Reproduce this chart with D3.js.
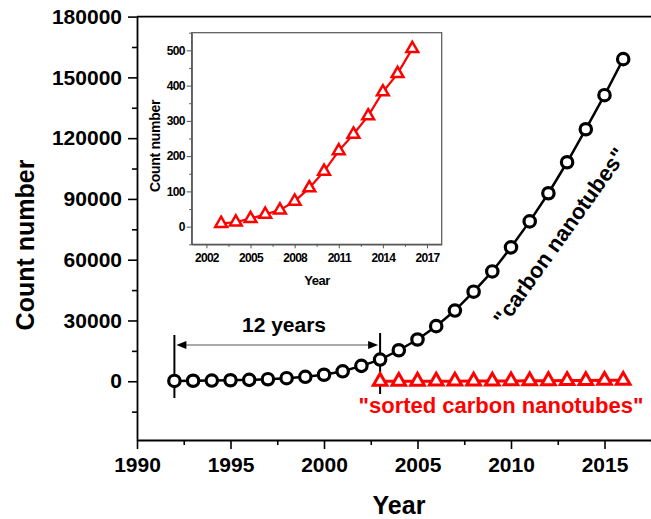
<!DOCTYPE html>
<html>
<head>
<meta charset="utf-8">
<script src="https://cdn.jsdelivr.net/npm/d3@7"></script>
<style>
  html, body { margin: 0; padding: 0; background: #fff; }
  svg { display: block; font-family: "Liberation Sans", Arial, sans-serif; }
</style>
</head>
<body>
<svg id="chart" width="651" height="519"></svg>
<script>
// ---- data ----
const cntYears = [1992,1993,1994,1995,1996,1997,1998,1999,2000,2001,2002,2003,2004,2005,2006,2007,2008,2009,2010,2011,2012,2013,2014,2015,2016];
const cntValues = [150,250,350,500,700,1000,1500,2200,3200,4900,7600,10700,15300,20600,27200,34900,44200,54200,66100,78900,92800,108100,124400,141200,159000];
const sortedYears = [2003,2004,2005,2006,2007,2008,2009,2010,2011,2012,2013,2014,2015,2016];
const sortedValues = [9,13,23,35,47,72,110,157,215,262,314,382,434,505];
const mainXTicks = [1990,1995,2000,2005,2010,2015];
const mainXMinor = [1992.5,1997.5,2002.5,2007.5,2012.5,2017.5];
const mainYTicks = [0,30000,60000,90000,120000,150000,180000];
const mainYMinor = [-15000,15000,45000,75000,105000,135000,165000];
const insetXTicks = [2002,2005,2008,2011,2014,2017];
const insetXMinor = [2003.5,2006.5,2009.5,2012.5,2015.5];
const insetYTicks = [0,100,200,300,400,500];
const insetYMinor = [-50,50,150,250,350,450,550];
const labels = {
  xTitle: "Year", yTitle: "Count number",
  span: "12 years", cnt: "\"carbon nanotubes\"", sorted: "\"sorted carbon nanotubes\""
};

const RED = "#ff0000";
const svg = d3.select("#chart");

// ---- main scales ----
const x = d3.scaleLinear().domain([1990, 2018]).range([137, 660.6]);
const y = d3.scaleLinear().domain([-29000, 180000]).range([440, 16.6]);

// frame (top and right borders, right is outside view)
svg.append("path")
  .attr("d", `M${x(1990)},${y(180000)}H${x(2018)}V${y(-29000)}`)
  .attr("fill", "none").attr("stroke", "#000").attr("stroke-width", 1.8);

// x axis
const gx = svg.append("g").attr("transform", `translate(0,${y(-29000)})`);
gx.call(d3.axisBottom(x).tickValues(mainXTicks).tickFormat(d3.format("d")).tickSize(9).tickPadding(8).tickSizeOuter(0));
gx.append("g").call(d3.axisBottom(x).tickValues(mainXMinor).tickFormat("").tickSize(5).tickSizeOuter(0))
  .select(".domain").remove();
// y axis
const gy = svg.append("g").attr("transform", `translate(${x(1990)},0)`);
gy.call(d3.axisLeft(y).tickValues(mainYTicks).tickFormat(d3.format("d")).tickSize(9).tickPadding(6).tickSizeOuter(0));
gy.append("g").call(d3.axisLeft(y).tickValues(mainYMinor).tickFormat("").tickSize(5).tickSizeOuter(0))
  .select(".domain").remove();
svg.selectAll(".domain").attr("stroke-width", 1.8);
svg.selectAll(".tick line").attr("stroke-width", 1.6);
[gx, gy].forEach(g => g.selectAll("text")
  .attr("font-size", 21).attr("font-weight", "bold").attr("fill", "#000")
  .attr("font-family", "Liberation Sans, Arial, sans-serif"));

// axis titles
svg.append("text").attr("x", 399).attr("y", 514).attr("text-anchor", "middle")
  .attr("font-size", 25).attr("font-weight", "bold").text(labels.xTitle);
svg.append("text").attr("transform", `translate(34,245) rotate(-90)`).attr("text-anchor", "middle")
  .attr("font-size", 25).attr("font-weight", "bold").text(labels.yTitle);

// annotations: 12 years
const ann = svg.append("g");
ann.append("line").attr("x1", x(1992)).attr("x2", x(1992)).attr("y1", 335).attr("y2", 398)
  .attr("stroke", "#000").attr("stroke-width", 2);
ann.append("line").attr("x1", x(2003)).attr("x2", x(2003)).attr("y1", 333).attr("y2", 394)
  .attr("stroke", "#000").attr("stroke-width", 2);
const ay = 345;
ann.append("line").attr("x1", x(1992) + 8).attr("x2", x(2003) - 8).attr("y1", ay).attr("y2", ay)
  .attr("stroke", "#555").attr("stroke-width", 1);
ann.append("path").attr("d", `M${x(1992)+2},${ay}L${x(1992)+12},${ay-4}L${x(1992)+12},${ay+4}Z`).attr("fill", "#000");
ann.append("path").attr("d", `M${x(2003)-2},${ay}L${x(2003)-12},${ay-4}L${x(2003)-12},${ay+4}Z`).attr("fill", "#000");
ann.append("text").attr("x", 284).attr("y", 332).attr("text-anchor", "middle")
  .attr("font-size", 21).attr("font-weight", "bold").text(labels.span);

// carbon nanotubes series
const line = d3.line().x(d => x(d[0])).y(d => y(d[1]));
const cntData = cntYears.map((yr, i) => [yr, cntValues[i]]);
svg.append("path").datum(cntData).attr("d", line)
  .attr("fill", "none").attr("stroke", "#000").attr("stroke-width", 2.5);
svg.append("g").selectAll("circle").data(cntData).join("circle")
  .attr("cx", d => x(d[0])).attr("cy", d => y(d[1])).attr("r", 5.7)
  .attr("fill", "#fff").attr("stroke", "#000").attr("stroke-width", 3.2);

// sorted series in main plot
const sortedData = sortedYears.map((yr, i) => [yr, sortedValues[i]]);
svg.append("path").datum(sortedData).attr("d", line)
  .attr("fill", "none").attr("stroke", RED).attr("stroke-width", 3);
const triMain = d3.symbol().type(d3.symbolTriangle).size(80);
svg.append("g").selectAll("path").data(sortedData).join("path")
  .attr("transform", d => `translate(${x(d[0])},${y(d[1])})`).attr("d", triMain)
  .attr("fill", "#fff").attr("stroke", RED).attr("stroke-width", 3).attr("stroke-linejoin", "miter");

// series labels
svg.append("text").attr("x", 501).attr("y", 413).attr("text-anchor", "middle")
  .attr("font-size", 22).attr("font-weight", "bold").attr("fill", RED).text(labels.sorted);
svg.append("text").attr("transform", "translate(566,241) rotate(-54.5)").attr("text-anchor", "middle")
  .attr("font-size", 22).attr("font-weight", "bold").attr("fill", "#000").text(labels.cnt);

// ---- inset ----
const ix = d3.scaleLinear().domain([2001, 2018]).range([191.7, 441.7]);
const iy = d3.scaleLinear().domain([-50, 550]).range([244.3, 32.7]);
const inset = svg.append("g");
inset.append("rect").attr("x", ix(2001)).attr("y", iy(550))
  .attr("width", ix(2018) - ix(2001)).attr("height", iy(-50) - iy(550))
  .attr("fill", "#fff").attr("stroke", "#555").attr("stroke-width", 1.2);
const igx = inset.append("g").attr("transform", `translate(0,${iy(-50)})`);
igx.call(d3.axisBottom(ix).tickValues(insetXTicks).tickFormat(d3.format("d")).tickSize(4).tickPadding(5).tickSizeOuter(0));
igx.append("g").call(d3.axisBottom(ix).tickValues(insetXMinor).tickFormat("").tickSize(2.5).tickSizeOuter(0))
  .select(".domain").remove();
const igy = inset.append("g").attr("transform", `translate(${ix(2001)},0)`);
igy.call(d3.axisLeft(iy).tickValues(insetYTicks).tickFormat(d3.format("d")).tickSize(5).tickPadding(2).tickSizeOuter(0));
igy.append("g").call(d3.axisLeft(iy).tickValues(insetYMinor).tickFormat("").tickSize(2.5).tickSizeOuter(0))
  .select(".domain").remove();
inset.selectAll(".domain").attr("stroke", "#555").attr("stroke-width", 1.2);
inset.selectAll(".tick line").attr("stroke", "#555").attr("stroke-width", 1);
[igx, igy].forEach(g => g.selectAll("text")
  .attr("font-size", 12).attr("font-weight", "bold").attr("fill", "#000").attr("letter-spacing", -0.7)
  .attr("font-family", "Liberation Sans, Arial, sans-serif"));
inset.append("text").attr("x", 317).attr("y", 285).attr("text-anchor", "middle")
  .attr("font-size", 13).attr("font-weight", "bold").attr("letter-spacing", -0.5).text(labels.xTitle);
inset.append("text").attr("transform", "translate(160,146) rotate(-90)").attr("text-anchor", "middle")
  .attr("font-size", 14).attr("font-weight", "bold").attr("letter-spacing", -0.3).text(labels.yTitle);

const iline = d3.line().x(d => ix(d[0])).y(d => iy(d[1]));
inset.append("path").datum(sortedData).attr("d", iline)
  .attr("fill", "none").attr("stroke", RED).attr("stroke-width", 2.2);
const triInset = d3.symbol().type(d3.symbolTriangle).size(60);
inset.append("g").selectAll("path").data(sortedData).join("path")
  .attr("transform", d => `translate(${ix(d[0])},${iy(d[1])})`).attr("d", triInset)
  .attr("fill", "#fff").attr("stroke", RED).attr("stroke-width", 2.5);
</script>
</body>
</html>
